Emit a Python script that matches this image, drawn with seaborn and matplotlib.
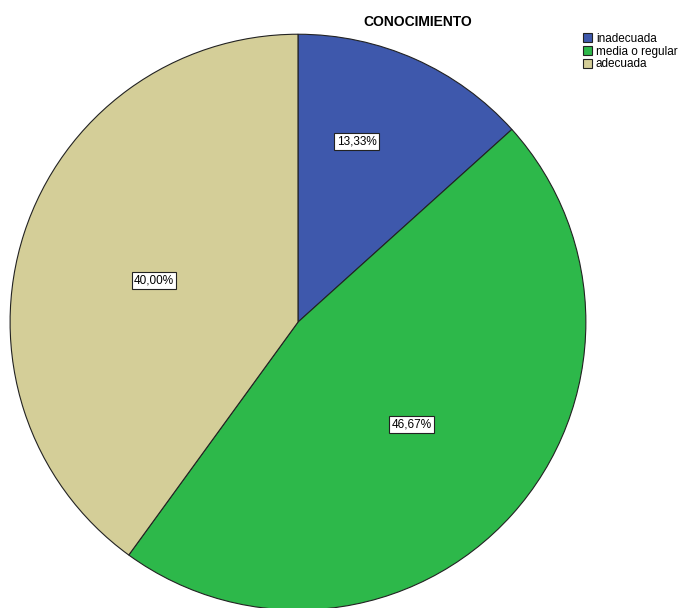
import matplotlib
matplotlib.use("Agg")
import matplotlib.pyplot as plt
import seaborn as sns
import numpy as np

categories = ["inadecuada", "media o regular", "adecuada"]
values = [13.33, 46.67, 40.00]
labels_txt = ["13,33%", "46,67%", "40,00%"]
colors = ["#3E58AC", "#2DB84A", "#D4CE98"]

sns.set_style("white")
plt.rcParams['font.family'] = ['Liberation Sans', 'DejaVu Sans']
plt.rcParams['text.color'] = 'black'

fig = plt.figure(figsize=(6.98, 6.08), dpi=100)
fig.patch.set_facecolor("white")
ax = fig.add_axes([0.0144, -0.0033, 0.825, 0.947])
wedges, _ = ax.pie(values, colors=colors, startangle=90, counterclock=False,
                   wedgeprops=dict(edgecolor="#222222", linewidth=0.8))
ax.set_aspect("equal")
ax.set_xlim(-1, 1)
ax.set_ylim(-1, 1)

# label placement (distance, angle in degrees) per slice
label_pos = [(0.66, 72), (0.53, -42), (0.52, 164)]
for txt, (d, a) in zip(labels_txt, label_pos):
    r = np.deg2rad(a)
    ax.text(d * np.cos(r), d * np.sin(r), txt, ha="center", va="center", fontsize=8.5,
            color="black",
            bbox=dict(boxstyle="square,pad=0.2", facecolor="white", edgecolor="#222222", linewidth=0.8))

fig.text(418 / 698, 1 - 22 / 608, "CONOCIMIENTO", ha="center", va="center",
         fontsize=10, fontweight="bold", color="black")

leg = fig.legend(wedges, categories, loc="upper left", bbox_to_anchor=(583 / 698, 1 - 33 / 608),
                 frameon=False, fontsize=8.5, handlelength=0.8, handleheight=0.8,
                 handletextpad=0.3, labelspacing=0.05, borderpad=0, borderaxespad=0)
for t in leg.get_texts():
    t.set_color("black")

fig.savefig("out.png", dpi=100, facecolor="white")
